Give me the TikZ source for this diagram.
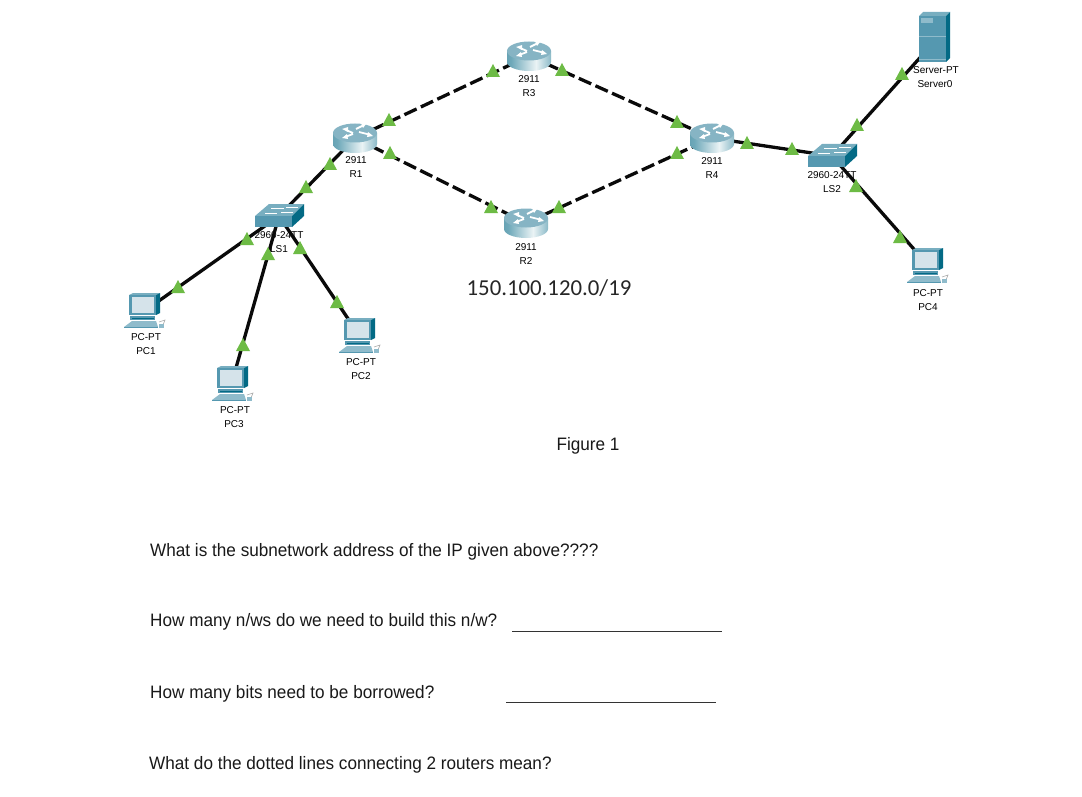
\documentclass[tikz,border=0pt]{standalone}
\usepackage{fontspec}
\setmainfont[FakeStretch=0.953]{Liberation Sans}
\newfontfamily\lab{Liberation Sans}
\newfontfamily\calib{Carlito}
\definecolor{lk}{HTML}{0A0A0A}
\definecolor{tri}{HTML}{6DBB45}
\definecolor{devtop}{HTML}{78AEC0}
\definecolor{devfront}{HTML}{5598B0}
\definecolor{devside}{HTML}{036A85}
\definecolor{scr}{HTML}{D5E3EA}
\definecolor{pale}{HTML}{8FBBCB}
\definecolor{rtrtop}{HTML}{86B4C4}
\definecolor{rtrdark}{HTML}{3F8499}
\definecolor{rtrmid}{HTML}{6FA9BA}
\definecolor{rtrlight}{HTML}{EAF3F5}
\pgfdeclarehorizontalshading{rtrside}{100bp}{color(0bp)=(rtrdark); color(30bp)=(rtrmid); color(58bp)=(rtrlight); color(80bp)=(rtrmid); color(100bp)=(rtrdark)}
\tikzset{
 x=1pt,y=-1pt,
 link/.style={draw=lk,line width=3.3pt},
 dashlink/.style={link,dash pattern=on 13.5pt off 4.7pt},
 devlabel/.style={font=\lab\fontsize{10}{12}\selectfont,inner sep=0pt,text=black},
 question/.style={font=\fontsize{18}{22}\selectfont,inner sep=0pt,anchor=west,text=black!90},
 fillline/.style={draw=black!80,line width=0.8pt},
 pics/status/.style={code={\fill[tri] (-7,6)--(0,-7)--(7,6)--cycle;}},
 pics/routericon/.style={code={
  \shade[shading=rtrside]
    (-22,-5) -- (-22,6) .. controls (-22,11) and (-12,15) .. (0,15) .. controls (12,15) and (22,11) .. (22,6) -- (22,-5) -- cycle;
  \fill[rtrtop] (0,-5) ellipse[x radius=22,y radius=9.5];
  \draw[white,line width=1.8pt] (-9,-8)--(-2,-5) (1,-9)--(9,-13) (-10,-1)--(-2,-4) (4,-6)--(16,-3);
  \fill[white] (-13,-9)--(-7,-11)--(-7,-6)--cycle (11,-14)--(6,-15)--(8,-10)--cycle
    (-13,0)--(-8,-4)--(-7,1)--cycle (18,-2)--(13,-6)--(12,-1)--cycle;
 }},
 pics/switchicon/.style={code={
  \fill[devtop] (-10,-12)--(25,-12)--(13,0)--(-24,0)--cycle;
  \fill[devfront] (-24,0)--(13,0)--(13,11)--(-24,11)--cycle;
  \fill[devside] (13,0)--(25,-12)--(25,0)--(13,11)--cycle;
  \draw[white,line width=0.7pt] (-8,-8)--(5,-8) (7,-9)--(19,-9) (-14,-3)--(-2,-3) (2,-4)--(14,-4);
 }},
 pics/servericon/.style={code={
  \fill[devtop] (0,0)--(4,-4)--(31,-4)--(27,0)--cycle;
  \fill[devfront] (0,0) rectangle (27,46);
  \fill[devside] (27,0)--(31,-4)--(31,42)--(27,46)--cycle;
  \fill[pale] (2,2) rectangle (14,7);
  \draw[pale,line width=0.6pt] (0,20)--(27,20) (0,43)--(27,43);
 }},
 pics/pcicon/.style={code={
  \fill[devtop] (0,0)--(4,-2)--(31,-2)--(27,0)--cycle;
  \fill[devside] (27,0)--(31,-2)--(31,18)--(27,20)--cycle;
  \fill[devfront] (0,0) rectangle (27,20);
  \fill[scr] (3,2) rectangle (25,18);
  \fill[devfront] (1,21) rectangle (26,25);
  \fill[devside] (3,23) rectangle (25,24);
  \fill[pale] (3,26)--(27,26)--(29,32)--(-5,32)--cycle;
  \fill[devfront] (-5,32) rectangle (29,33);
  \draw[black!35,line width=0.6pt] (30,27)--(36,25)--(34,30);
  \fill[pale] (30,29) rectangle (35,33);
 }}
}
\begin{document}
\begin{tikzpicture}
\useasboundingbox (0,0) rectangle (1082,797);
\fill[white] (0,0) rectangle (1082,797);
% device positions
\coordinate (R3) at (529,56);
\coordinate (R1) at (355,138);
\coordinate (R4) at (712,138);
\coordinate (R2) at (526,223);
\coordinate (LS1) at (279,216);
\coordinate (LS2) at (832,156);
\coordinate (Srv) at (934,42);
\coordinate (PC1) at (146,310);
\coordinate (PC3) at (232,382);
\coordinate (PC2) at (359,335);
\coordinate (PC4) at (927,264);
% labels
\node[devlabel] (r3a) at (529,79) {2911};
\node[devlabel] (r3b) at (529,93) {R3};
\node[devlabel] (r1a) at (356,160) {2911};
\node[devlabel] (r1b) at (356,174) {R1};
\node[devlabel] (r4a) at (712,161) {2911};
\node[devlabel] (r4b) at (712,175) {R4};
\node[devlabel] (r2a) at (526,247) {2911};
\node[devlabel] (r2b) at (526,261) {R2};
\node[devlabel] (s1a) at (279,235) {2960-24TT};
\node[devlabel] (s1b) at (279,249) {LS1};
\node[devlabel] (s2a) at (832,175) {2960-24TT};
\node[devlabel] (s2b) at (832,189) {LS2};
\node[devlabel] (sva) at (936,70) {Server-PT};
\node[devlabel] (svb) at (935,84) {Server0};
\node[devlabel] (p1a) at (146,337) {PC-PT};
\node[devlabel] (p1b) at (146,351) {PC1};
\node[devlabel] (p3a) at (235,410) {PC-PT};
\node[devlabel] (p3b) at (234,424) {PC3};
\node[devlabel] (p2a) at (361,362) {PC-PT};
\node[devlabel] (p2b) at (361,376) {PC2};
\node[devlabel] (p4a) at (928,293) {PC-PT};
\node[devlabel] (p4b) at (928,307) {PC4};
% links
\draw[link] (LS1)--(R1);
\draw[link] (R4)--(LS2);
\draw[link] (LS2)--(Srv);
\draw[link] (LS2)--(PC4);
\draw[link] (LS1)--(PC1);
\draw[link] (LS1)--(PC3);
\draw[link] (LS1)--(PC2);
\draw[dashlink] (R1)--(R3);
\draw[dashlink] (R1)--(R2);
\draw[dashlink] (R3)--(R4);
\draw[dashlink] (R2)--(R4);
% icons
\pic at (R3) {routericon};
\pic at (R1) {routericon};
\pic at (R4) {routericon};
\pic at (R2) {routericon};
\pic at (LS1) {switchicon};
\pic at (LS2) {switchicon};
\pic at (919,16) {servericon};
\pic at (129,295) {pcicon};
\pic at (217,368) {pcicon};
\pic at (344,320) {pcicon};
\pic at (912,250) {pcicon};
% status triangles
\foreach \p in {(493,71),(562,70),(389,120),(390,153),(677,122),(677,153),(491,207),(559,207),(330,164),(306,187),(747,143),(792,149),(857,125),(902,74),(856,186),(900,237),(247,239),(268,254),(300,248),(178,287),(337,302),(243,345)}
  \pic at \p {status};
% text
\node[inner sep=0pt,font=\calib\fontsize{22.8}{26}\selectfont,text=black!85] (addr) at (549,288) {150.100.120.0/19};
\node[inner sep=0pt,font=\fontsize{18}{22}\selectfont,text=black!90] (fig) at (588,446) {Figure 1};
\node[question] (q1) at (150,552) {What is the subnetwork address of the IP given above????};
\node[question] (q2) at (150,622) {How many n/ws do we need to build this n/w?};
\coordinate (u1a) at (512,631); \coordinate (u1b) at (722,631);
\draw[fillline] (u1a)--(u1b);
\node[question] (q3) at (150,694) {How many bits need to be borrowed?};
\coordinate (u2a) at (506,702); \coordinate (u2b) at (716,702);
\draw[fillline] (u2a)--(u2b);
\node[question] (q4) at (149,765) {What do the dotted lines connecting 2 routers mean?};
\end{tikzpicture}
\end{document}
